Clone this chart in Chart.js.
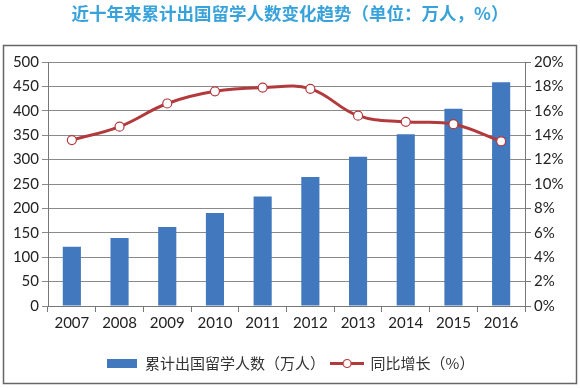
<!DOCTYPE html>
<html>
<head>
<meta charset="utf-8">
<script src="https://cdn.jsdelivr.net/npm/chart.js@4"></script>
<style>
  html, body { margin: 0; padding: 0; background: #fff; }
  #wrap { width: 580px; height: 388px; }
</style>
</head>
<body>
<div id="wrap"><canvas id="chart" width="580" height="388"></canvas></div>
<script>
// data
const years = ['2007', '2008', '2009', '2010', '2011', '2012', '2013', '2014', '2015', '2016'];
const totalStudents = [121.2, 139.2, 162.1, 190.5, 224.5, 264.5, 305.9, 351.8, 404.2, 458.7];
const growthRate = [13.6, 14.7, 16.6, 17.6, 17.9, 17.8, 15.6, 15.1, 14.9, 13.5];

const barColor = '#4178be';
const lineColor = '#b23a3d';

// legend markers drawn as small images
function barMarker() {
    const c = document.createElement('canvas');
    c.width = 30; c.height = 9;
    const ctx = c.getContext('2d');
    ctx.fillStyle = barColor;
    ctx.fillRect(0, 0, 30, 9);
    return c;
}
function lineMarker() {
    const c = document.createElement('canvas');
    c.width = 34; c.height = 11;
    const ctx = c.getContext('2d');
    ctx.strokeStyle = lineColor;
    ctx.lineWidth = 3;
    ctx.beginPath(); ctx.moveTo(0, 5.5); ctx.lineTo(34, 5.5); ctx.stroke();
    ctx.beginPath(); ctx.arc(17, 5.5, 4, 0, Math.PI * 2);
    ctx.fillStyle = '#fff'; ctx.fill();
    ctx.lineWidth = 1.2; ctx.stroke();
    return c;
}

const frame = {
    id: 'frame',
    beforeDraw(chart) {
        const ctx = chart.ctx;
        ctx.save();
        ctx.fillStyle = '#fff';
        ctx.fillRect(0, 0, chart.width, chart.height);
        ctx.strokeStyle = '#666';
        ctx.lineWidth = 1.5;
        ctx.strokeRect(3.5, 45.5, 573, 338);
        ctx.restore();
    }
};

new Chart(document.getElementById('chart').getContext('2d'), {
    data: {
        labels: years,
        datasets: [{
            type: 'bar',
            label: '累计出国留学人数（万人）',
            data: totalStudents,
            backgroundColor: barColor,
            barPercentage: 0.38,
            categoryPercentage: 1,
            yAxisID: 'y',
            order: 2
        }, {
            type: 'line',
            label: '同比增长（%）',
            data: growthRate,
            borderColor: lineColor,
            borderWidth: 3,
            tension: 0.4,
            pointRadius: 4.5,
            pointBackgroundColor: '#fff',
            pointBorderColor: lineColor,
            pointBorderWidth: 1.2,
            yAxisID: 'y1',
            order: 1
        }]
    },
    options: {
        responsive: false,
        animation: false,
        layout: { padding: { left: 0, right: 0, top: 0, bottom: 7 } },
        plugins: {
            tooltip: { enabled: false },
            title: {
                display: true,
                text: '近十年来累计出国留学人数变化趋势（单位：万人，%）',
                color: '#38a2da',
                font: { family: '"Noto Sans CJK SC"', size: 17.5, weight: 'bold' },
                padding: { top: 3, bottom: 38 }
            },
            legend: {
                position: 'bottom',
                labels: {
                    usePointStyle: true,
                    pointStyleWidth: 32,
                    padding: 6,
                    color: '#333',
                    font: { family: '"Noto Sans CJK SC"', size: 15 },
                    generateLabels: () => [
                        { text: '累计出国留学人数（万人）', pointStyle: barMarker(), fontColor: '#333', lineWidth: 0, datasetIndex: 0 },
                        { text: '同比增长（%）', pointStyle: lineMarker(), fontColor: '#333', lineWidth: 0, datasetIndex: 1 }
                    ]
                }
            }
        },
        scales: {
            x: {
                offset: true,
                grid: { offset: true, drawOnChartArea: false, tickLength: 6, color: '#777' },
                border: { color: '#777' },
                ticks: { color: '#222', font: { family: 'Lato', size: 15 }, padding: 2 },
                afterFit: s => { s.height = 44; }
            },
            y: {
                position: 'left',
                min: 0, max: 500,
                ticks: { stepSize: 50, color: '#222', font: { family: 'Lato', size: 15 }, padding: 3 },
                grid: { color: '#8a8a8a', tickLength: 6 },
                border: { color: '#777' },
                afterFit: s => { s.width = 48; }
            },
            y1: {
                position: 'right',
                min: 0, max: 20,
                ticks: { stepSize: 2, color: '#222', font: { family: 'Lato', size: 15 }, padding: 3,
                         callback: v => v + '%' },
                grid: { drawOnChartArea: false, tickLength: 6, color: '#777' },
                border: { color: '#777' },
                afterFit: s => { s.width = 55; }
            }
        }
    },
    plugins: [frame]
});
</script>
</body>
</html>
